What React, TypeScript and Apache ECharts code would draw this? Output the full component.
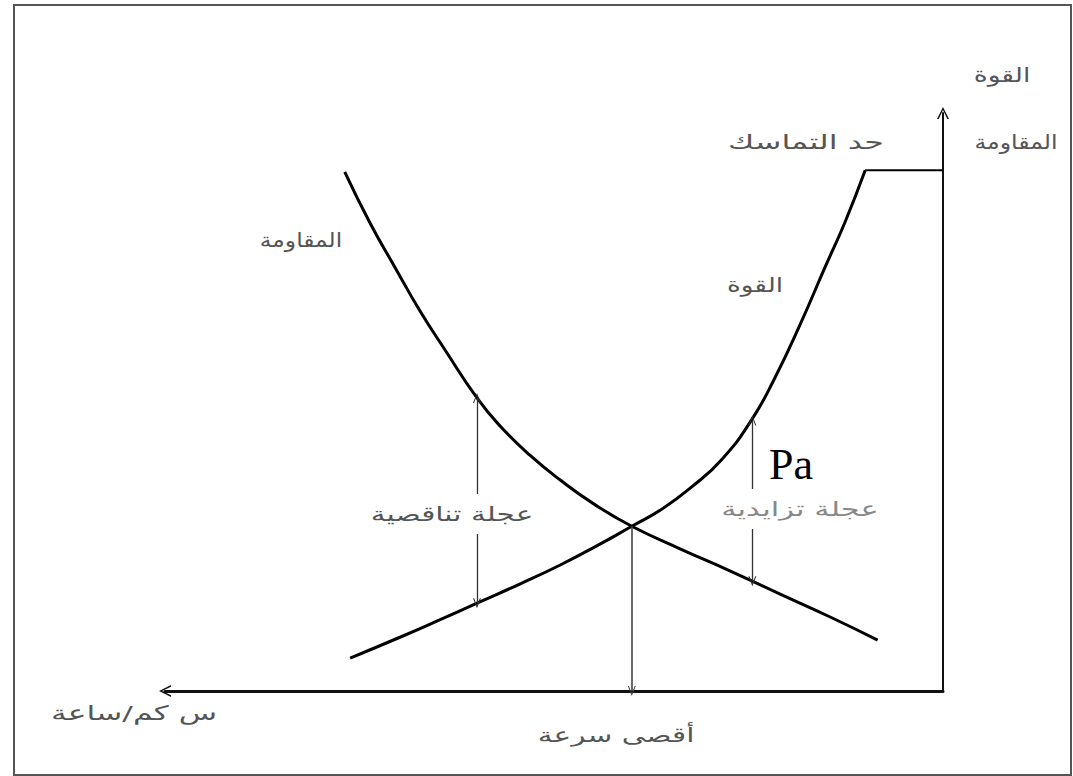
import React, { useEffect, useRef } from "react";
import * as echarts from "echarts";

// Resistance curve (المقاومة): speed vs. resistance
const resistanceSpeed = [76.9, 73.7, 70.4, 67.2, 64.0, 59.9, 56.9, 53.1, 49.2, 44.7, 40.0, 33.8, 27.4, 21.0, 14.5, 8.4];
const resistanceValue = [89.8, 81.1, 73.2, 65.7, 59.0, 50.7, 45.8, 40.8, 36.5, 32.2, 28.5, 24.6, 20.8, 16.8, 12.8, 8.8];
// Force curve (القوة): speed vs. tractive force
const forceSpeed = [76.2, 69.8, 64.7, 59.9, 54.4, 49.2, 44.1, 40.0, 36.1, 32.3, 28.4, 24.6, 21.6, 18.4, 15.2, 12.6, 10.0];
const forceValue = [5.7, 9.3, 12.3, 15.2, 18.5, 21.8, 25.4, 28.5, 31.5, 35.3, 40.1, 46.9, 54.2, 63.3, 73.2, 81.1, 90.1];
// Adhesion limit (حد التماسك)
const limitSpeed = [10.0, 0];
const limitValue = [90.1, 90.1];
// Arrows: [speed, from, to]
const decelArrow = [59.9, 50.7, 15.2];
const accelArrow = [24.5, 46.8, 19.0];
const maxSpeedArrow = [40.0, 28.5, 0];

const chevron = "path://M5,0 L10,10 L8.6,10 L5,2.6 L1.4,10 L0,10 Z";

const zip = (a: number[], b: number[]) => a.map((v, i) => [v, b[i]]);

const arabicFont = '"DejaVu Sans", sans-serif';

export default function App() {
  const ref = useRef<HTMLDivElement>(null);
  useEffect(() => {
    if (!ref.current) return;
    const chart = echarts.init(ref.current, undefined, { renderer: "svg" });
    const txt = (
      text: string,
      x: number,
      y: number,
      scaleX = 1.4,
      color = "#555",
      bg = false,
      size = 20,
      family = arabicFont
    ) => ({
      type: "text",
      x,
      y,
      scaleX,
      z: 100,
      style: {
        text,
        fontSize: size,
        fontFamily: family,
        fill: color,
        align: "center",
        verticalAlign: "middle",
        textAlign: "center",
        textVerticalAlign: "middle",
        backgroundColor: bg ? "#fff" : undefined,
        padding: bg ? [10, 4] : 0,
      },
    });
    const lineSeries = (data: number[][], width: number, smooth: number | boolean) => ({
      type: "line",
      data,
      smooth,
      symbol: "none",
      silent: true,
      lineStyle: { color: "#000", width },
    });
    chart.setOption({
      animation: false,
      backgroundColor: "#fff",
      grid: { left: 165, right: 130, top: 113, bottom: 85 },
      xAxis: {
        type: "value",
        min: 0,
        max: 100,
        inverse: true,
        axisLine: {
          show: true,
          onZero: false,
          symbol: [chevron, "none"],
          symbolSize: [12, 18],
          lineStyle: { color: "#111", width: 3 },
        },
        axisTick: { show: false },
        axisLabel: { show: false },
        splitLine: { show: false },
      },
      yAxis: {
        type: "value",
        min: 0,
        max: 100,
        position: "right",
        axisLine: {
          show: true,
          onZero: false,
          symbol: ["none", chevron],
          symbolSize: [12, 12],
          lineStyle: { color: "#111", width: 2 },
        },
        axisTick: { show: false },
        axisLabel: { show: false },
        splitLine: { show: false },
      },
      series: [
        lineSeries(zip(resistanceSpeed, resistanceValue), 3, 0.5),
        {
          ...lineSeries(zip(forceSpeed, forceValue), 3, 0.5),
          markLine: {
            silent: true,
            symbol: [chevron, chevron],
            symbolSize: [8, 10],
            label: { show: false },
            lineStyle: { color: "#333", width: 1.3, type: "solid" },
            data: [
              [
                { coord: [decelArrow[0], decelArrow[1]] },
                { coord: [decelArrow[0], decelArrow[2]] },
              ],
              [
                { coord: [accelArrow[0], accelArrow[1]] },
                { coord: [accelArrow[0], accelArrow[2]] },
              ],
              [
                { coord: [maxSpeedArrow[0], maxSpeedArrow[1]], symbol: "none" },
                { coord: [maxSpeedArrow[0], maxSpeedArrow[2]], lineStyle: { width: 1.6, color: "#444" } },
              ],
            ],
          },
        },
        lineSeries(zip(limitSpeed, limitValue), 2, false),
      ],
      graphic: [
        {
          type: "rect",
          z: 100,
          shape: { x: 14, y: 5, width: 1057, height: 770 },
          style: { fill: "none", stroke: "#555", lineWidth: 2 },
        },
        txt("القوة", 1002, 75, 1.33),
        txt("المقاومة", 1016, 142, 1.18),
        txt("حد التماسك", 806, 142, 1.59),
        txt("المقاومة", 301, 240, 1.17),
        txt("القوة", 755, 285, 1.32),
        txt("عجلة تناقصية", 452, 514, 1.48, "#555", true),
        txt("عجلة تزايدية", 800, 509, 1.53, "#888", true),
        txt("Pa", 791, 464, 1, "#000", false, 44, '"Liberation Serif", serif'),
        txt("س كم/ساعة", 134, 713, 1.57),
        txt("أقصى سرعة", 616, 735, 1.48),
      ],
    });
    return () => chart.dispose();
  }, []);
  return (
    <div
      ref={ref}
      style={{ position: "absolute", left: 0, top: 0, width: 1073, height: 776, background: "#fff" }}
    />
  );
}
